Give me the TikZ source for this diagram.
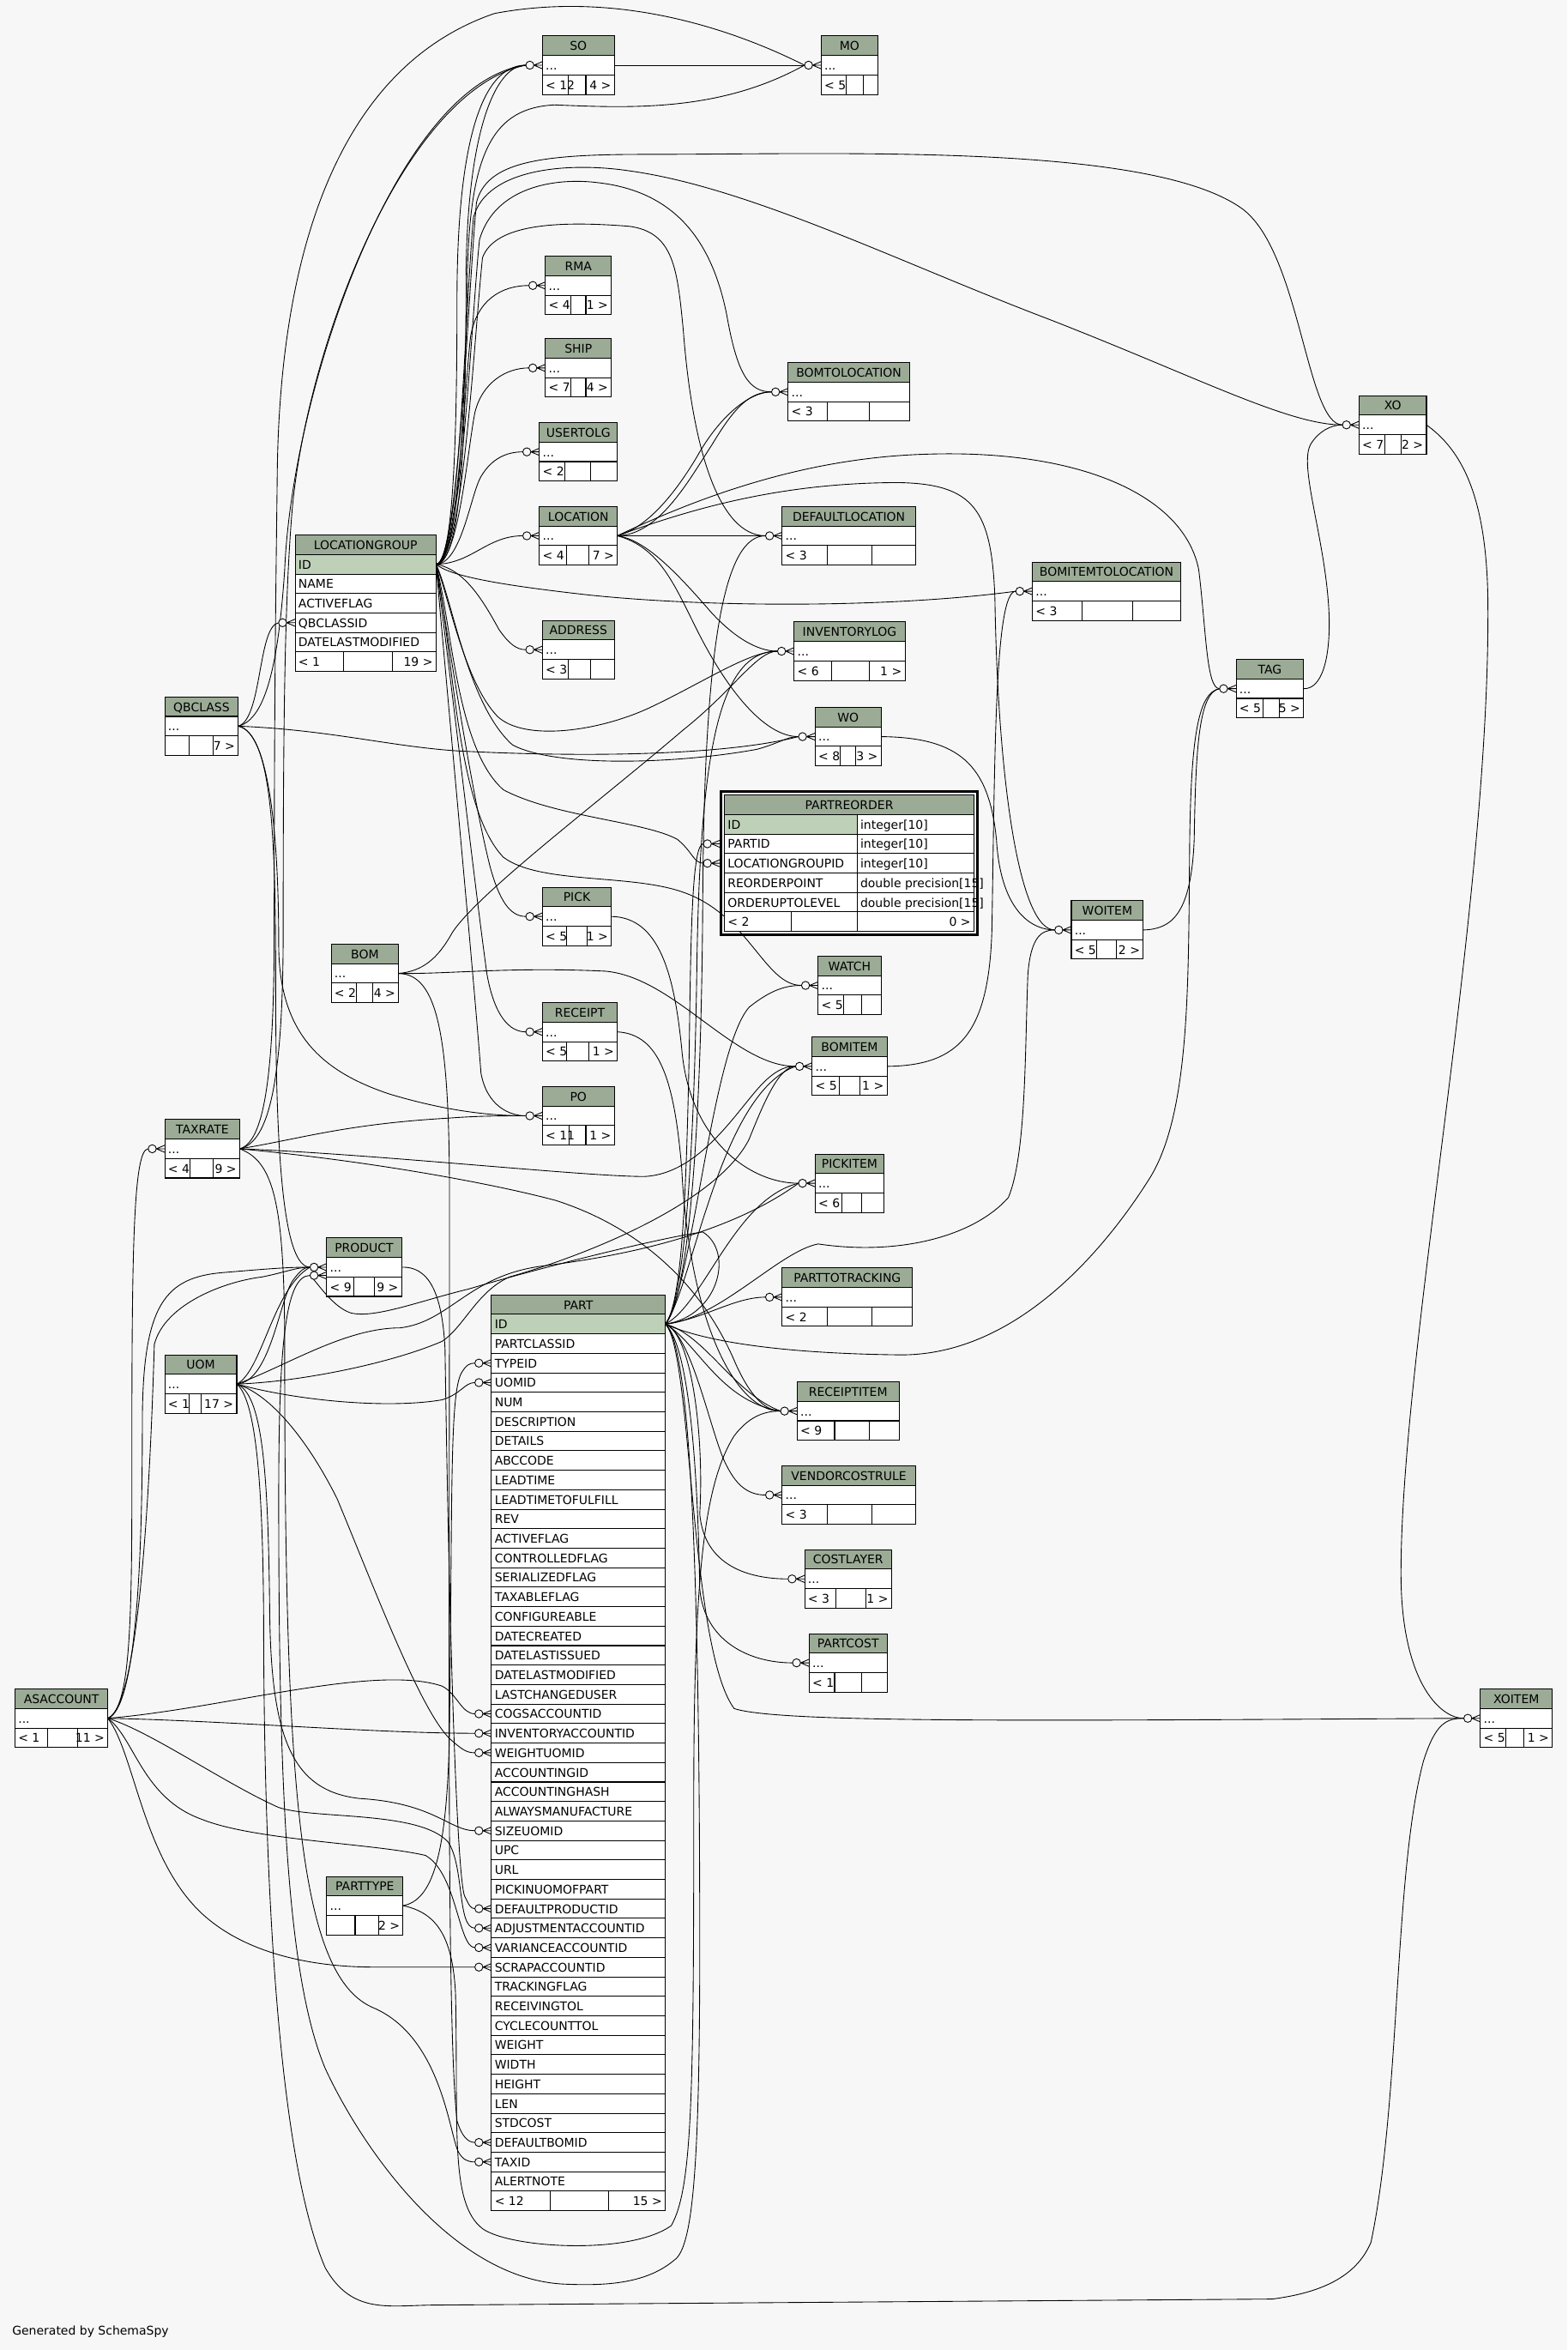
\documentclass[tikz,border=0pt]{standalone}
\usepackage{fontspec}
\setmainfont{DejaVu Sans}
\definecolor{bg}{HTML}{F7F7F7}
\definecolor{hdr}{HTML}{9BAB96}
\definecolor{pk}{HTML}{BED1B8}
\pgfdeclarelayer{bgl}
\pgfdeclarelayer{edges}
\pgfsetlayers{bgl,edges,main}
\tikzset{
  tbl/.style={draw=black,line width=0.6pt},
  rel/.style={draw=black,line width=0.5pt},
  tf/.style={inner sep=0pt,font=\fontsize{8}{9.6}\selectfont},
  ttl/.style={tf,anchor=base},
  cell/.style={tf,anchor=base west},
  cellr/.style={tf,anchor=base east},
  crow/.pic={
    \draw[rel] (-5.7,0) -- (0,-2.4) (-5.7,0) -- (0,0) (-5.7,0) -- (0,2.4);
    \draw[rel,fill=bg] (-8.4,0) circle[radius=2.7pt];
  }
}
% id, title, x1, x2, ytop, d1, d2, footer left, footer right
\newcommand\ctab[9]{%
  \fill[hdr] (#3,#5) rectangle (#4,#5+13);
  \fill[white] (#3,#5+13) rectangle (#4,#5+39);
  \draw[tbl] (#3,#5) rectangle (#4,#5+39);
  \draw[tbl] (#3,#5+13) -- (#4,#5+13) (#3,#5+26) -- (#4,#5+26)
     (#6,#5+26) -- (#6,#5+39) (#7,#5+26) -- (#7,#5+39);
  \node[ttl] (#1-t) at ({(#3+#4)/2},#5+9.6) {#2};
  \node[cell] (#1-d) at (#3+2,#5+22.6) {...};
  \node[cell] (#1-fl) at (#3+2,#5+35.6) {#8};
  \node[cellr] (#1-fr) at (#4-2,#5+35.6) {#9};
  \coordinate (#1-in) at (#3-11.1,#5+19.5);
  \coordinate (#1-c) at (#3,#5+19.5);
  \coordinate (#1-out) at (#4,#5+19.5);
}
\begin{document}
\begin{tikzpicture}[x=1pt,y=-1pt]
\useasboundingbox (0,0) rectangle (1046,1568);
\begin{pgfonlayer}{bgl}
\fill[bg] (0,0) rectangle (1046,1568);
\end{pgfonlayer}

% ---------- collapsed tables ----------
\ctab{SO}{SO}{362}{410}{24}{379}{391}{< 12}{4 >}
\ctab{MO}{MO}{548}{586}{24}{565}{576}{< 5}{}
\ctab{RMA}{RMA}{364}{408}{171}{381}{391}{< 4}{1 >}
\ctab{SHIP}{SHIP}{364}{408}{226}{381}{391}{< 7}{4 >}
\ctab{UTLG}{USERTOLG}{360}{412}{282}{377}{394}{< 2}{}
\ctab{LOC}{LOCATION}{360}{412}{338}{378}{393}{< 4}{7 >}
\ctab{ADDR}{ADDRESS}{362}{410}{414}{379}{394}{< 3}{}
\ctab{BTL}{BOMTOLOCATION}{526}{607}{242}{552}{580}{< 3}{}
\ctab{DL}{DEFAULTLOCATION}{522}{611}{338}{552}{582}{< 3}{}
\ctab{BITL}{BOMITEMTOLOCATION}{689}{788}{375}{722}{756}{< 3}{}
\ctab{IL}{INVENTORYLOG}{530}{604}{415}{555}{580}{< 6}{1 >}
\ctab{WO}{WO}{544}{588}{472}{561}{571}{< 8}{3 >}
\ctab{XO}{XO}{907}{952}{264}{924}{935}{< 7}{2 >}
\ctab{TAG}{TAG}{825}{870}{440}{843}{854}{< 5}{5 >}
\ctab{WOI}{WOITEM}{715}{763}{601}{732}{745}{< 5}{2 >}
\ctab{WATCH}{WATCH}{546}{588}{638}{563}{575}{< 5}{}
\ctab{PICK}{PICK}{362}{408}{592}{378}{392}{< 5}{1 >}
\ctab{BOM}{BOM}{221}{266}{630}{238}{249}{< 2}{4 >}
\ctab{REC}{RECEIPT}{362}{412}{669}{378}{393}{< 5}{1 >}
\ctab{BI}{BOMITEM}{542}{592}{692}{560}{574}{< 5}{1 >}
\ctab{PO}{PO}{362}{410}{725}{380}{391}{< 11}{1 >}
\ctab{TX}{TAXRATE}{110}{160}{747}{127}{142}{< 4}{9 >}
\ctab{PI}{PICKITEM}{544}{590}{770}{562}{575}{< 6}{}
\ctab{PROD}{PRODUCT}{218}{268}{826}{236}{250}{< 9}{9 >}
\ctab{PTT}{PARTTOTRACKING}{522}{609}{846}{552}{582}{< 2}{}
\ctab{UOM}{UOM}{110}{158}{904}{126}{134}{< 1}{17 >}
\ctab{RI}{RECEIPTITEM}{532}{600}{922}{557}{580}{< 9}{}
\ctab{VCR}{VENDORCOSTRULE}{522}{611}{978}{552}{582}{< 3}{}
\ctab{CL}{COSTLAYER}{537}{595}{1034}{558}{578}{< 3}{1 >}
\ctab{PC}{PARTCOST}{540}{592}{1090}{557}{575}{< 1}{}
\ctab{AS}{ASACCOUNT}{10}{72}{1127}{32}{52}{< 1}{11 >}
\ctab{XOI}{XOITEM}{988}{1036}{1127}{1005}{1017}{< 5}{1 >}
\ctab{PT}{PARTTYPE}{218}{269}{1252}{237}{253}{}{2 >}
\ctab{QB}{QBCLASS}{110}{159}{465}{126}{142}{}{7 >}
\coordinate (PROD2-in) at (206.9,851);
\coordinate (PROD2-c) at (218,851);

% ---------- LOCATIONGROUP ----------
\fill[hdr] (197,357) rectangle (291,370);
\fill[pk] (197,370) rectangle (291,383);
\fill[white] (197,383) rectangle (291,448);
\node[ttl] (LG-t) at (244,366.6) {LOCATIONGROUP};
\foreach \nm [count=\i from 0] in {ID,NAME,ACTIVEFLAG,QBCLASSID,DATELASTMODIFIED} {
  \node[cell] (LG-r\i) at (199,370+13*\i+9.6) {\nm};
  \draw[tbl] (197,383+13*\i) -- (291,383+13*\i);
}
\draw[tbl] (197,370) -- (291,370);
\draw[tbl] (197,357) rectangle (291,448);
\draw[tbl] (229,435) -- (229,448) (262,435) -- (262,448);
\node[cell] (LG-fl) at (199,444.6) {< 1};
\node[cellr] (LG-fr) at (289,444.6) {19 >};
\coordinate (LG-out) at (291,376.5);
\coordinate (LGQB-in) at (185.9,415.5);
\coordinate (LGQB-c) at (197,415.5);

% ---------- PARTREORDER ----------
\fill[white] (483.5,530.5) rectangle (650,621.5);
\fill[hdr] (483.5,530.5) rectangle (650,543.5);
\fill[pk] (483.5,543.5) rectangle (572,556.5);
\node[ttl] (PR-t) at (566.75,540.1) {PARTREORDER};
\foreach \nm/\ty [count=\i from 0] in {ID/integer[10],PARTID/integer[10],LOCATIONGROUPID/integer[10],REORDERPOINT/double precision[15],ORDERUPTOLEVEL/double precision[15]} {
  \node[cell] (PR-n\i) at (485.5,543.5+13*\i+9.6) {\nm};
  \node[cell] (PR-y\i) at (574,543.5+13*\i+9.6) {\ty};
  \draw[tbl] (483.5,556.5+13*\i) -- (650,556.5+13*\i);
}
\draw[tbl] (483.5,543.5) -- (650,543.5);
\draw[tbl] (572,543.5) -- (572,621.5) (528,608.5) -- (528,621.5);
\draw[tbl] (483.5,530.5) rectangle (650,621.5);
\draw[draw=black,line width=1.6pt] (481.3,528.3) rectangle (652.2,623.6);
\node[cell] (PR-fl) at (485.5,618.1) {< 2};
\node[cellr] (PR-fr) at (648,618.1) {0 >};
\coordinate (PRPART-in) at (469.4,563);
\coordinate (PRPART-c) at (480.5,563);
\coordinate (PRLG-in) at (469.4,576);
\coordinate (PRLG-c) at (480.5,576);

% ---------- PART ----------
\fill[hdr] (328,864) rectangle (444,877);
\fill[pk] (328,877) rectangle (444,890);
\fill[white] (328,890) rectangle (444,1475);
\node[ttl] (PART-t) at (386,873.6) {PART};
\foreach \nm [count=\i from 0] in {ID,PARTCLASSID,TYPEID,UOMID,NUM,DESCRIPTION,DETAILS,ABCCODE,LEADTIME,LEADTIMETOFULFILL,REV,ACTIVEFLAG,CONTROLLEDFLAG,SERIALIZEDFLAG,TAXABLEFLAG,CONFIGUREABLE,DATECREATED,DATELASTISSUED,DATELASTMODIFIED,LASTCHANGEDUSER,COGSACCOUNTID,INVENTORYACCOUNTID,WEIGHTUOMID,ACCOUNTINGID,ACCOUNTINGHASH,ALWAYSMANUFACTURE,SIZEUOMID,UPC,URL,PICKINUOMOFPART,DEFAULTPRODUCTID,ADJUSTMENTACCOUNTID,VARIANCEACCOUNTID,SCRAPACCOUNTID,TRACKINGFLAG,RECEIVINGTOL,CYCLECOUNTTOL,WEIGHT,WIDTH,HEIGHT,LEN,STDCOST,DEFAULTBOMID,TAXID,ALERTNOTE} {
  \node[cell] (PART-r\i) at (330,877+13*\i+9.6) {\nm};
  \draw[tbl] (328,890+13*\i) -- (444,890+13*\i);
}
\draw[tbl] (328,877) -- (444,877);
\draw[tbl] (328,864) rectangle (444,1475);
\draw[tbl] (367,1462) -- (367,1475) (406,1462) -- (406,1475);
\node[cell] (PART-fl) at (330,1471.6) {< 12};
\node[cellr] (PART-fr) at (442,1471.6) {15 >};
\coordinate (PART-out) at (444,883.5);
\foreach \nm/\k in {TYPEID/2,UOMID/3,COGS/20,INV/21,WUOM/22,SUOM/26,DEFPROD/30,ADJ/31,VAR/32,SCRAP/33,DEFBOM/42,TAXID/43} {
  \coordinate (\nm-in) at (316.9,883.5+13*\k);
  \coordinate (\nm-c) at (328,883.5+13*\k);
}

\node[cell] (gen) at (8,1558) {Generated by SchemaSpy};

% ---------- relationships ----------
\begin{pgfonlayer}{edges}
\draw[rel] (SO-out) -- (MO-in);
% top arcs
\draw[rel] (TX-out) .. controls (176,762) and (183,720) .. (183,620) .. controls (183,470) and (184,400) .. (185,320) .. controls (186,170) and (225,45) .. (330,9) .. controls (420,-8) and (500,25) .. (MO-in);
\draw[rel] (TX-out) .. controls (180,762) and (189,720) .. (189,620) .. controls (189,480) and (190,400) .. (195,340) .. controls (205,230) and (270,60) .. (SO-in);
\draw[rel] (QB-out) .. controls (178,480) and (186,440) .. (190,380) .. controls (195,260) and (265,55) .. (SO-in);
% QBCLASS
\draw[rel] (QB-out) .. controls (175,480) and (172,418) .. (LGQB-in);
\draw[rel] (QB-out) .. controls (220,487) and (260,498) .. (305,501) .. controls (380,505) and (480,505) .. (WO-in);
\draw[rel] (QB-out) .. controls (180,488) and (186,560) .. (186,630) .. controls (186,690) and (215,715) .. (260,730) .. controls (300,742) and (330,744.5) .. (PO-in);
\draw[rel] (QB-out) .. controls (182,490) and (184,560) .. (184,660) .. controls (184,780) and (190,845.5) .. (PROD-in);
% LOCATIONGROUP fan
\draw[rel] (LG-out) .. controls (302,376) and (305,300) .. (305,200) .. controls (305,100) and (320,43.5) .. (SO-in);
\draw[rel] (LG-out) .. controls (308,376) and (311,290) .. (311,190) .. controls (311,90) and (330,43.5) .. (SO-in);
\draw[rel] (LG-out) .. controls (306,376) and (310,280) .. (312,180) .. controls (314,100) and (330,72) .. (370,70) .. controls (420,72) and (480,75) .. (MO-in);
\draw[rel] (LG-out) .. controls (306,376) and (312,200) .. (318,135) .. controls (325,108) and (360,103) .. (430,103) .. controls (560,103) and (770,95) .. (830,140) .. controls (868,170) and (872,283.5) .. (XO-in);
\draw[rel] (LG-out) .. controls (307,376) and (310,210) .. (316,145) .. controls (325,112) and (380,108) .. (420,114) .. controls (500,125) and (600,175) .. (700,213) .. controls (800,252) and (860,283.5) .. (XO-in);
\draw[rel] (LG-out) .. controls (308,376) and (314,220) .. (320,160) .. controls (330,125) and (370,118) .. (400,122) .. controls (450,128) and (475,160) .. (485,210) .. controls (492,250) and (500,261.5) .. (BTL-in);
\draw[rel] (LG-out) .. controls (309,376) and (316,230) .. (322,172) .. controls (330,150) and (370,147) .. (420,151) .. controls (450,155) and (452,180) .. (456,220) .. controls (462,300) and (480,357.5) .. (DL-in);
\draw[rel] (LG-out) .. controls (305,376) and (310,260) .. (314,225) .. controls (318,200) and (335,190.5) .. (RMA-in);
\draw[rel] (LG-out) .. controls (306,376) and (312,300) .. (317,275) .. controls (322,255) and (338,245.5) .. (SHIP-in);
\draw[rel] (LG-out) .. controls (308,376) and (314,330) .. (321,318) .. controls (328,306) and (338,301.5) .. (UTLG-in);
\draw[rel] (LG-out) .. controls (315,376) and (325,357.5) .. (LOC-in);
\draw[rel] (LG-out) .. controls (310,380) and (322,400) .. (333,420) .. controls (340,430) and (345,433.5) .. (ADDR-in);
\draw[rel] (LG-out) .. controls (300,384) and (330,390) .. (393,397) .. controls (480,406) and (600,405) .. (BITL-in);
\draw[rel] (LG-out) .. controls (300,400) and (310,455) .. (332,478) .. controls (350,495) and (400,488) .. (434,472) .. controls (470,455) and (500,434.5) .. (IL-in);
\draw[rel] (LG-out) .. controls (302,400) and (312,470) .. (342,497) .. controls (370,512) and (450,510) .. (505,500) .. controls (520,496) and (525,491.5) .. (WO-in);
\draw[rel] (LG-out) .. controls (302,420) and (305,500) .. (336,527) .. controls (370,545) and (430,548) .. (452,560) .. controls (462,568) and (463,576) .. (PRLG-in);
\draw[rel] (LG-out) .. controls (303,440) and (305,540) .. (336,572) .. controls (360,590) and (420,583) .. (455,595) .. controls (500,610) and (510,657.5) .. (WATCH-in);
\draw[rel] (LG-out) .. controls (303,450) and (315,530) .. (327,578) .. controls (333,600) and (340,611.5) .. (PICK-in);
\draw[rel] (LG-out) .. controls (303,470) and (318,600) .. (325,650) .. controls (330,678) and (340,688.5) .. (REC-in);
\draw[rel] (LG-out) .. controls (300,480) and (316,650) .. (321,716) .. controls (325,738) and (340,744.5) .. (PO-in);
% TAXRATE
\draw[rel] (TX-out) .. controls (200,760) and (230,750) .. (300,746) .. controls (320,744.5) and (335,744.5) .. (PO-in);
\draw[rel] (TX-out) .. controls (250,770) and (390,785) .. (430,785) .. controls (470,783) and (495,735) .. (512,720) .. controls (520,713) and (525,711.5) .. (BI-in);
\draw[rel] (TX-out) .. controls (250,775) and (330,790) .. (371,801) .. controls (430,820) and (470,860) .. (491,910) .. controls (500,930) and (510,941.5) .. (RI-in);
\draw[rel] (TX-out) .. controls (182,775) and (190,800) .. (190,900) .. controls (190,1200) and (200,1320) .. (250,1340) .. controls (295,1360) and (300,1425) .. (306,1436) .. controls (309,1441) and (312,1442.5) .. (TAXID-in);
% ASACCOUNT
\draw[rel] (AS-out) .. controls (85,1140) and (88,1100) .. (88,1000) .. controls (88,850) and (88,766.5) .. (TX-in);
\draw[rel] (AS-out) .. controls (90,1140) and (95,1050) .. (95,950) .. controls (95,870) and (110,852) .. (150,849) .. controls (185,846) and (195,845.5) .. (PROD-in);
\draw[rel] (AS-out) .. controls (92,1140) and (100,1000) .. (103,897) .. controls (110,870) and (150,855) .. (175,852) .. controls (190,849) and (198,845.5) .. (PROD-in);
\draw[rel] (AS-out) .. controls (150,1140) and (250,1110) .. (295,1125) .. controls (305,1130) and (308,1143.5) .. (COGS-in);
\draw[rel] (AS-out) .. controls (150,1148) and (250,1156.5) .. (INV-in);
\draw[rel] (AS-out) .. controls (100,1155) and (150,1190) .. (186,1206) .. controls (210,1214) and (280,1208) .. (299,1229) .. controls (310,1245) and (305,1286.5) .. (ADJ-in);
\draw[rel] (AS-out) .. controls (90,1160) and (95,1200) .. (135,1214) .. controls (170,1228) and (250,1230) .. (284,1238) .. controls (305,1250) and (306,1299.5) .. (VAR-in);
\draw[rel] (AS-out) .. controls (90,1170) and (95,1240) .. (135,1277) .. controls (160,1300) and (200,1312.5) .. (250,1312.5) -- (SCRAP-in);
% UOM
\draw[rel] (UOM-out) .. controls (175,915) and (182,860) .. (PROD-in);
\draw[rel] (UOM-out) .. controls (180,922) and (186,870) .. (195,855) .. controls (200,848) and (203,845.5) .. (PROD-in);
\draw[rel] (UOM-out) .. controls (190,912) and (230,886) .. (267,886) .. controls (300,882) and (312,852) .. (360,845) .. controls (400,840) and (480,828) .. (PI-in);
\draw[rel] (UOM-out) .. controls (200,922) and (260,910) .. (295,895) .. controls (310,885) and (318,862) .. (340,852) .. controls (400,835) and (480,800) .. (500,760) .. controls (510,735) and (520,711.5) .. (BI-in);
\draw[rel] (UOM-out) .. controls (200,935) and (260,940) .. (295,934) .. controls (308,930) and (310,922.5) .. (UOMID-in);
\draw[rel] (UOM-out) .. controls (180,930) and (205,960) .. (225,1000) .. controls (250,1060) and (280,1140) .. (300,1160) .. controls (308,1167) and (311,1169.5) .. (WUOM-in);
\draw[rel] (UOM-out) .. controls (175,930) and (179,980) .. (180,1076) .. controls (181,1160) and (195,1195) .. (240,1200) .. controls (290,1203) and (300,1221.5) .. (SUOM-in);
\draw[rel] (UOM-out) .. controls (172,935) and (176,1000) .. (176,1100) .. controls (177,1300) and (190,1450) .. (217,1513) .. controls (235,1545) and (260,1538) .. (291,1538) -- (849,1534) .. controls (880,1530) and (905,1520) .. (915,1496) .. controls (935,1400) and (930,1250) .. (950,1175) .. controls (958,1150) and (965,1146.5) .. (XOI-in);
% PARTTYPE, PRODUCT, BOM
\draw[rel] (PT-out) .. controls (288,1268) and (299,1240) .. (300,1150) .. controls (302,1000) and (300,930) .. (308,916) .. controls (311,911) and (313,909.5) .. (TYPEID-in);
\draw[rel] (PT-out) .. controls (290,1276) and (302,1290) .. (304,1330) .. controls (306,1420) and (300,1470) .. (322,1487) .. controls (340,1500) and (420,1505) .. (448,1485) .. controls (462,1460) and (463,1400) .. (463,1200) .. controls (463,1050) and (470,990) .. (490,958) .. controls (500,945) and (510,941.5) .. (RI-in);
\draw[rel] (PROD-out) .. controls (285,845) and (295,860) .. (297,900) .. controls (300,1100) and (305,1250) .. (310,1265) .. controls (313,1271) and (314,1273.5) .. (DEFPROD-in);
\draw[rel] (BOM-out) .. controls (292,650) and (300,690) .. (300,800) .. controls (300,1100) and (298,1350) .. (305,1415) .. controls (308,1425) and (312,1429.5) .. (DEFBOM-in);
\draw[rel] (BOM-out) .. controls (300,650) and (340,645) .. (404,648) .. controls (450,652) and (490,711.5) .. (BI-in);
\draw[rel] (BOM-out) .. controls (282,648) and (292,640) .. (302,622) .. controls (320,595) and (400,535) .. (456,487) .. controls (490,460) and (505,434.5) .. (IL-in);
% PICK, RECEIPT
\draw[rel] (PICK-out) .. controls (440,612) and (450,650) .. (455,700) .. controls (460,760) and (500,789.5) .. (PI-in);
\draw[rel] (REC-out) .. controls (440,690) and (450,720) .. (455,780) .. controls (460,880) and (490,941.5) .. (RI-in);
% LOCATION
\draw[rel] (LOC-out) .. controls (440,357) and (460,320) .. (475,297) .. controls (490,272) and (500,261.5) .. (BTL-in);
\draw[rel] (LOC-out) .. controls (432,352) and (450,330) .. (465,305) .. controls (480,278) and (500,261.5) .. (BTL-in);
\draw[rel] (LOC-out) -- (DL-in);
\draw[rel] (LOC-out) .. controls (430,360) and (450,380) .. (475,409) .. controls (490,425) and (505,434.5) .. (IL-in);
\draw[rel] (LOC-out) .. controls (440,365) and (450,390) .. (465,420) .. controls (485,460) and (510,491.5) .. (WO-in);
\draw[rel] (LOC-out) .. controls (460,340) and (520,322) .. (600,322) .. controls (650,323) and (662,340) .. (664,400) .. controls (666,520) and (680,620.5) .. (WOI-in);
\draw[rel] (LOC-out) .. controls (470,330) and (540,305) .. (620,303) .. controls (720,300) and (790,330) .. (800,380) .. controls (805,420) and (805,459.5) .. (TAG-in);
% right side
\draw[rel] (BI-out) .. controls (640,711) and (660,690) .. (662,620) .. controls (664,500) and (664,394.5) .. (BITL-in);
\draw[rel] (WO-out) .. controls (640,492) and (660,510) .. (665,560) .. controls (668,610) and (690,620.5) .. (WOI-in);
\draw[rel] (WOI-out) .. controls (782,620) and (795,610) .. (797,560) .. controls (798,500) and (800,462) .. (TAG-in);
\draw[rel] (TAG-out) .. controls (882,460) and (888,440) .. (887,410) .. controls (885,360) and (866,310) .. (875,296) .. controls (880,288) and (888,283.5) .. (XO-in);
\draw[rel] (XO-out) .. controls (975,300) and (992,330) .. (993,400) .. controls (995,600) and (935,900) .. (935,1050) .. controls (935,1120) and (960,1146.5) .. (XOI-in);
% PART fan
\draw[rel] (PART-out) .. controls (455,870) and (458,800) .. (460,700) .. controls (461,620) and (462,563) .. (PRPART-in);
\draw[rel] (PART-out) .. controls (456,870) and (463,780) .. (465,650) .. controls (467,500) and (480,434.5) .. (IL-in);
\draw[rel] (PART-out) .. controls (457,870) and (468,780) .. (469,600) .. controls (470,420) and (485,357.5) .. (DL-in);
\draw[rel] (PART-out) .. controls (462,860) and (475,700) .. (500,672) .. controls (515,660) and (525,657.5) .. (WATCH-in);
\draw[rel] (PART-out) .. controls (462,860) and (480,730) .. (BI-in);
\draw[rel] (PART-out) .. controls (470,870) and (490,800) .. (PI-in);
\draw[rel] (PART-out) .. controls (470,880) and (490,865.5) .. (PTT-in);
\draw[rel] (PART-out) .. controls (470,890) and (490,930) .. (RI-in);
\draw[rel] (PART-out) .. controls (465,895) and (480,935) .. (RI-in);
\draw[rel] (PART-out) .. controls (462,890) and (475,960) .. (485,978) .. controls (492,992) and (500,997.5) .. (VCR-in);
\draw[rel] (PART-out) .. controls (462,890) and (470,960) .. (467,1010) .. controls (470,1045) and (500,1053.5) .. (CL-in);
\draw[rel] (PART-out) .. controls (462,900) and (466,1000) .. (467,1060) .. controls (470,1095) and (500,1109.5) .. (PC-in);
\draw[rel] (PART-out) .. controls (462,900) and (460,1100) .. (490,1140) .. controls (520,1150) and (700,1148) .. (XOI-in);
\draw[rel] (PART-out) .. controls (470,895) and (520,903) .. (600,904) .. controls (680,905) and (740,830) .. (768,785) .. controls (795,740) and (793,650) .. (794,560) .. controls (795,490) and (800,462) .. (TAG-in);
\draw[rel] (PART-out) .. controls (480,880) and (520,835) .. (546,830) .. controls (600,838) and (650,825) .. (673,799) .. controls (685,770) and (684,700) .. (686,650) .. controls (688,625) and (695,620.5) .. (WOI-in);
\draw[rel] (PART-out) .. controls (480,878) and (490,835) .. (469,822) .. controls (440,826) and (360,846) .. (313,860) .. controls (280,868) and (250,880) .. (234,876) .. controls (222,872) and (212,856) .. (PROD2-in);
\draw[rel] (PART-out) .. controls (458,895) and (467,1000) .. (467,1300) .. controls (467,1450) and (462,1500) .. (450,1508) .. controls (430,1525) and (400,1525) .. (376,1524) .. controls (300,1520) and (240,1430) .. (217,1380) .. controls (192,1320) and (186,1200) .. (186,1000) .. controls (186,900) and (190,851) .. (PROD2-in);
\end{pgfonlayer}

% ---------- crow's feet ----------
\foreach \t in {SO,MO,RMA,SHIP,UTLG,LOC,ADDR,BTL,DL,BITL,IL,WO,XO,TAG,WOI,WATCH,PICK,REC,BI,PO,TX,PI,PROD,PROD2,PTT,RI,VCR,CL,PC,XOI,LGQB,PRPART,PRLG,TYPEID,UOMID,COGS,INV,WUOM,SUOM,DEFPROD,ADJ,VAR,SCRAP,DEFBOM,TAXID}
  \pic at (\t-c) {crow};
\end{tikzpicture}
\end{document}
